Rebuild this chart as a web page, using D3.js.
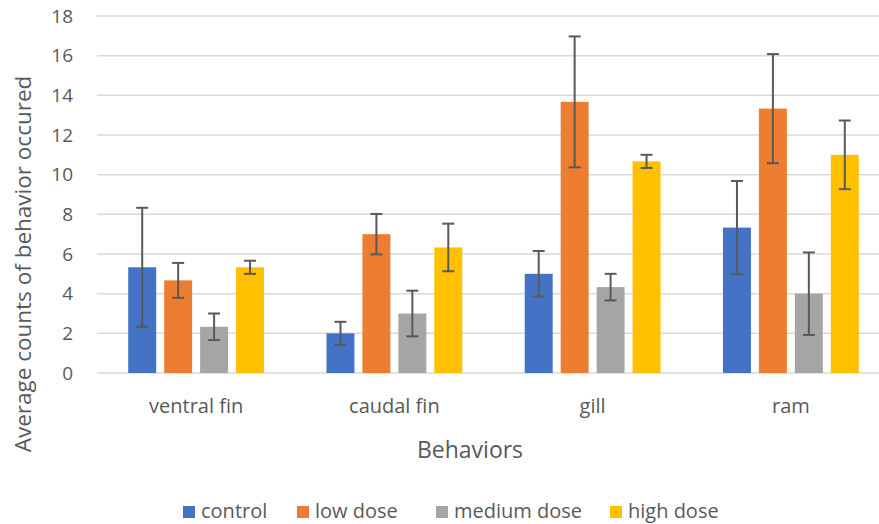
<!DOCTYPE html>
<html>
<head>
<meta charset="utf-8">
<script src="https://cdn.jsdelivr.net/npm/d3@7"></script>
<style>
  html, body { margin: 0; padding: 0; background: #fff; }
  svg { display: block; font-family: "Open Sans", sans-serif; }
</style>
</head>
<body>
<svg id="chart" width="879" height="524"></svg>
<script>
const categories = ["ventral fin", "caudal fin", "gill", "ram"];
const seriesNames = ["control", "low dose", "medium dose", "high dose"];
const seriesColors = ["#4472C4", "#ED7D31", "#A5A5A5", "#FFC000"];
const controlValues = [5.33, 2.0, 5.0, 7.33];
const lowDoseValues = [4.67, 7.0, 13.67, 13.33];
const mediumDoseValues = [2.33, 3.0, 4.33, 4.0];
const highDoseValues = [5.33, 6.33, 10.67, 11.0];
const controlErrors = [3.0, 0.58, 1.15, 2.35];
const lowDoseErrors = [0.88, 1.02, 3.3, 2.75];
const mediumDoseErrors = [0.67, 1.15, 0.67, 2.08];
const highDoseErrors = [0.33, 1.2, 0.33, 1.73];
const yTicks = [0, 2, 4, 6, 8, 10, 12, 14, 16, 18];

(function () {
const values = [controlValues, lowDoseValues, mediumDoseValues, highDoseValues];
const errors = [controlErrors, lowDoseErrors, mediumDoseErrors, highDoseErrors];

const svg = d3.select("#chart");
const pLeft = 97, pRight = 890, pTop = 16, pBottom = 373;
const textColor = "#595959";

const x0 = d3.scaleBand().domain(categories).range([pLeft, pRight]).paddingInner(0.315).paddingOuter(0.1575);
const x1 = d3.scaleBand().domain(seriesNames).range([0, x0.bandwidth()]).paddingInner(0.222).paddingOuter(0);
const y = d3.scaleLinear().domain([0, 18]).range([pBottom, pTop]);

// gridlines
svg.append("g").selectAll("line").data(yTicks).join("line")
  .attr("x1", pLeft).attr("x2", 879)
  .attr("y1", d => y(d)).attr("y2", d => y(d))
  .attr("stroke", "#d9d9d9").attr("stroke-width", 1.5);

// y tick labels
svg.append("g").selectAll("text").data(yTicks).join("text")
  .attr("x", 73).attr("y", d => y(d))
  .attr("dy", "0.35em")
  .attr("text-anchor", "end")
  .attr("font-size", 19).attr("fill", textColor)
  .text(d => d);

// bars
const rows = [];
categories.forEach((c, ci) => {
  seriesNames.forEach((s, si) => {
    rows.push({ c, s, si, v: values[si][ci], e: errors[si][ci] });
  });
});

svg.append("g").selectAll("rect").data(rows).join("rect")
  .attr("x", d => x0(d.c) + x1(d.s))
  .attr("y", d => y(d.v))
  .attr("width", x1.bandwidth())
  .attr("height", d => y(0) - y(d.v))
  .attr("fill", d => seriesColors[d.si]);

// error bars
const eg = svg.append("g").attr("stroke", "#595959").attr("stroke-width", 2);
const cx = d => x0(d.c) + x1(d.s) + x1.bandwidth() / 2;
eg.selectAll("line.v").data(rows).join("line").attr("class", "v")
  .attr("x1", cx).attr("x2", cx)
  .attr("y1", d => y(d.v + d.e)).attr("y2", d => y(d.v - d.e));
eg.selectAll("line.t").data(rows).join("line").attr("class", "t")
  .attr("x1", d => cx(d) - 6).attr("x2", d => cx(d) + 6)
  .attr("y1", d => y(d.v + d.e)).attr("y2", d => y(d.v + d.e));
eg.selectAll("line.b").data(rows).join("line").attr("class", "b")
  .attr("x1", d => cx(d) - 6).attr("x2", d => cx(d) + 6)
  .attr("y1", d => y(d.v - d.e)).attr("y2", d => y(d.v - d.e));

// category labels
svg.append("g").selectAll("text").data(categories).join("text")
  .attr("x", d => x0(d) + x0.bandwidth() / 2)
  .attr("y", 413)
  .attr("text-anchor", "middle")
  .attr("font-size", 20).attr("fill", textColor)
  .text(d => d);

// axis titles
svg.append("text")
  .attr("x", 470).attr("y", 458)
  .attr("text-anchor", "middle")
  .attr("font-size", 23).attr("fill", textColor)
  .text("Behaviors");

svg.append("text")
  .attr("transform", "translate(31,264) rotate(-90)")
  .attr("text-anchor", "middle")
  .attr("font-size", 22.5).attr("fill", textColor)
  .text("Average counts of behavior occured");

// legend
const legendX = [183, 297, 436, 610];
const lg = svg.append("g").selectAll("g").data(seriesNames).join("g")
  .attr("transform", (d, i) => `translate(${legendX[i]},0)`);
lg.append("rect").attr("x", 0).attr("y", 506).attr("width", 12).attr("height", 12)
  .attr("fill", (d, i) => seriesColors[i]);
lg.append("text").attr("x", 18).attr("y", 518)
  .attr("font-size", 20).attr("fill", textColor)
  .text(d => d);
})();
</script>
</body>
</html>
